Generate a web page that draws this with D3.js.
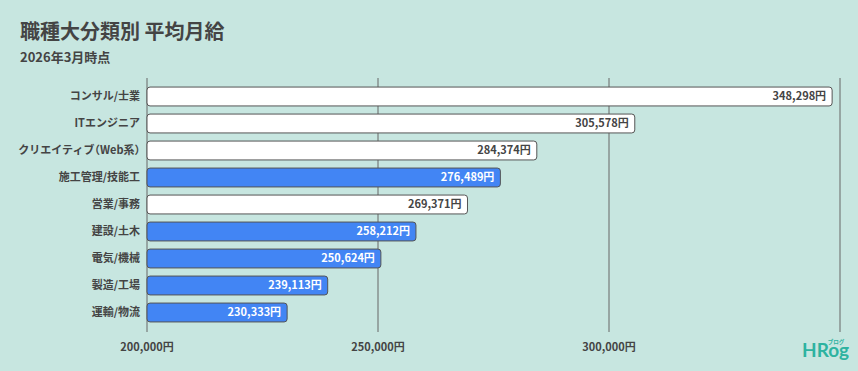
<!DOCTYPE html>
<html lang="ja">
  <head>
    <meta charset="UTF-8" />
    <title>職種大分類別 平均月給</title>
    <style>
      body { margin: 0; background: #c7e6e0; }
      svg { display: block; font-family: "Noto Sans CJK JP", "Noto Sans", sans-serif; }
      .half { font-feature-settings: "halt"; }
    </style>
  </head>
  <body>
    <svg id="chart" width="858" height="371"></svg>
    <script src="https://d3js.org/d3.v7.min.js"></script>
    <script>
      // 職種ごとの平均月給（円）
      const categories = [
        "コンサル/士業",
        "ITエンジニア",
        "クリエイティブ（Web系）",
        "施工管理/技能工",
        "営業/事務",
        "建設/土木",
        "電気/機械",
        "製造/工場",
        "運輸/物流",
      ];
      const salaries = [348298, 305578, 284374, 276489, 269371, 258212, 250624, 239113, 230333];
      const highlighted = [false, false, false, true, false, true, true, true, true];
      const tickValues = [200000, 250000, 300000, 350000];
      const tickLabels = ["200,000円", "250,000円", "300,000円", ""];

      const data = categories.map((c, i) => ({ name: c, value: salaries[i], hl: highlighted[i] }));

      const svg = d3.select("#chart");
      const textColor = "#444";

      svg.append("text").attr("x", 20).attr("y", 39)
        .attr("font-size", 20).attr("font-weight", "bold").attr("fill", textColor)
        .text("職種大分類別 平均月給");
      svg.append("text").attr("x", 20).attr("y", 62)
        .attr("font-size", 13).attr("font-weight", "bold").attr("fill", textColor)
        .text("2026年3月時点");

      const x = d3.scaleLinear().domain([200000, 350000]).range([147, 840]);
      const y = d3.scaleBand().domain(categories).range([83, 326]).paddingInner(0.3).paddingOuter(0.15);

      // グリッド線
      svg.append("g").selectAll("line").data(tickValues).join("line")
        .attr("x1", d => x(d)).attr("x2", d => x(d))
        .attr("y1", 78).attr("y2", 332)
        .attr("stroke", "#666").attr("stroke-width", 1);

      svg.append("g").selectAll("text").data(tickValues).join("text")
        .attr("x", d => x(d)).attr("y", 351)
        .attr("text-anchor", "middle").attr("font-size", 11).attr("font-weight", "bold")
        .attr("fill", textColor)
        .text((d, i) => tickLabels[i]);

      // バー
      svg.append("g").selectAll("rect").data(data).join("rect")
        .attr("x", x(200000))
        .attr("y", d => y(d.name))
        .attr("width", d => x(d.value) - x(200000))
        .attr("height", y.bandwidth())
        .attr("rx", 3)
        .attr("fill", d => d.hl ? "#4285f4" : "#ffffff")
        .attr("stroke", "#555").attr("stroke-width", 1);

      // 値ラベル
      svg.append("g").selectAll("text").data(data).join("text")
        .attr("x", d => x(d.value) - 6)
        .attr("y", d => y(d.name) + y.bandwidth() / 2)
        .attr("dy", "0.36em")
        .attr("text-anchor", "end").attr("font-size", 11).attr("font-weight", "bold")
        .attr("fill", d => d.hl ? "#fff" : textColor)
        .text(d => d3.format(",")(d.value) + "円");

      // カテゴリラベル（全角括弧は半角幅で）
      svg.append("g").selectAll("text").data(data).join("text")
        .attr("x", 140)
        .attr("y", d => y(d.name) + y.bandwidth() / 2)
        .attr("dy", "0.36em")
        .attr("text-anchor", "end").attr("font-size", 11).attr("font-weight", "bold")
        .attr("fill", textColor)
        .each(function (d) {
          const t = d3.select(this);
          d.name.split(/([（）])/).filter(s => s).forEach(s => {
            t.append("tspan").attr("class", /[（）]/.test(s) ? "half" : null).text(s);
          });
        });

      // ロゴ
      svg.append("text").attr("x", 802).attr("y", 357)
        .attr("font-family", "Lato, sans-serif")
        .attr("font-size", 19).attr("font-weight", "bold").attr("fill", "#2db3a0")
        .text("HRog");
      svg.append("text").attr("x", 836).attr("y", 344)
        .attr("font-size", 5.5).attr("font-weight", "bold").attr("fill", "#2db3a0")
        .attr("text-anchor", "middle")
        .text("ブログ");
    </script>
  </body>
</html>
